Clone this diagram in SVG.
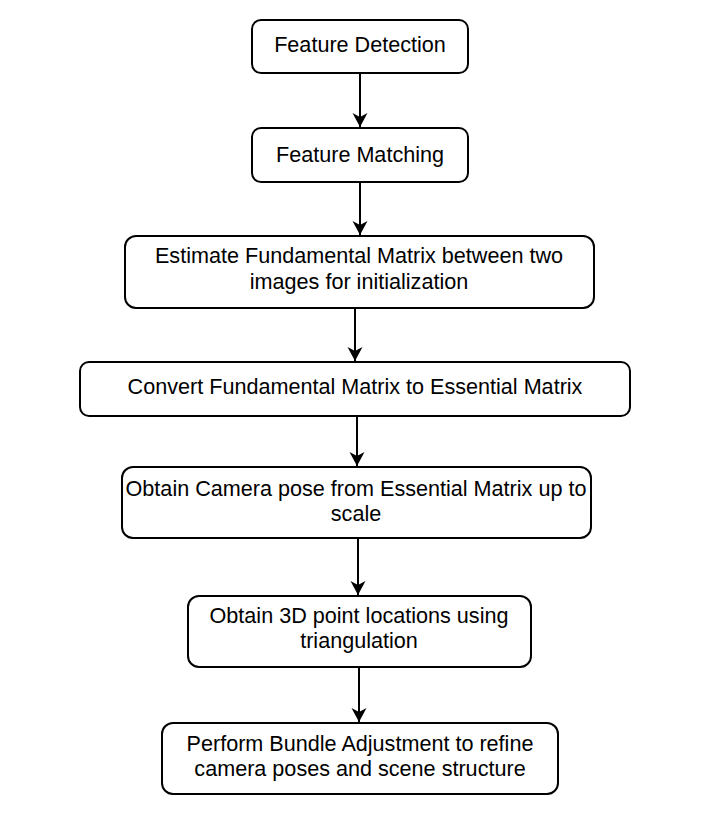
<svg xmlns="http://www.w3.org/2000/svg" width="709" height="825" viewBox="0 0 709 825">
<style>
.box{fill:#fff;stroke:#000;stroke-width:2}
.t{font-family:"Liberation Sans",Arial,Helvetica,sans-serif;font-size:21.6px;fill:#000;text-anchor:middle}
.c{stroke:#000;stroke-width:2;fill:none}
</style>
<defs>
<marker id="ah" markerUnits="userSpaceOnUse" markerWidth="16" markerHeight="16" refX="14" refY="7.5" orient="auto" viewBox="0 0 16 15">
<path d="M0,0 L14,7.5 L0,15 L4,7.5 Z" fill="#000"/>
</marker>
</defs>
<rect width="709" height="825" fill="#fff"/>
<g id="connectors">
<line class="c" x1="360" y1="73" x2="360" y2="127" marker-end="url(#ah)"/>
<line class="c" x1="360" y1="182" x2="360" y2="235" marker-end="url(#ah)"/>
<line class="c" x1="355" y1="308" x2="355" y2="361" marker-end="url(#ah)"/>
<line class="c" x1="357" y1="416" x2="357" y2="466" marker-end="url(#ah)"/>
<line class="c" x1="358" y1="538" x2="358" y2="595" marker-end="url(#ah)"/>
<line class="c" x1="359" y1="667" x2="359" y2="722" marker-end="url(#ah)"/>
</g>
<g id="n1"><rect class="box" x="252" y="20" width="216" height="53" rx="9"/><text class="t" x="360" y="52">Feature Detection</text></g>
<g id="n2"><rect class="box" x="252" y="128" width="216" height="54" rx="9"/><text class="t" x="360" y="162">Feature Matching</text></g>
<g id="n3"><rect class="box" x="125" y="236" width="469" height="72" rx="11"/><text class="t" x="359" y="263">Estimate Fundamental Matrix between two</text><text class="t" x="359" y="289">images for initialization</text></g>
<g id="n4"><rect class="box" x="80" y="362" width="550" height="54" rx="9"/><text class="t" x="355" y="394">Convert Fundamental Matrix to Essential Matrix</text></g>
<g id="n5"><rect class="box" x="122" y="467" width="469" height="71" rx="11"/><text class="t" x="356" y="496">Obtain Camera pose from Essential Matrix up to</text><text class="t" x="356" y="521">scale</text></g>
<g id="n6"><rect class="box" x="188" y="596" width="343" height="71" rx="11"/><text class="t" x="359" y="623">Obtain 3D point locations using</text><text class="t" x="359" y="648">triangulation</text></g>
<g id="n7"><rect class="box" x="162" y="723" width="396" height="71" rx="11"/><text class="t" x="360" y="751">Perform Bundle Adjustment to refine</text><text class="t" x="360" y="776">camera poses and scene structure</text></g>
</svg>
